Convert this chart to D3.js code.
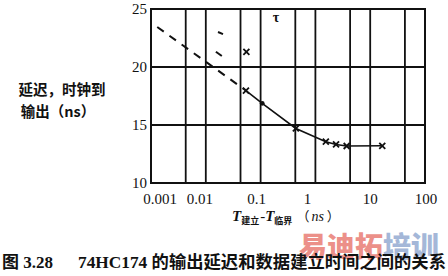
<!DOCTYPE html>
<html>
<head>
<meta charset="utf-8">
<script src="https://cdn.jsdelivr.net/npm/d3@7"></script>
<style>
  html, body { margin: 0; padding: 0; background: #fff; }
  svg { display: block; }
</style>
</head>
<body>
<svg id="chart" width="448" height="276"></svg>
<script>
// ---- data ----
const xTickValues = [0.001, 0.01, 0.1, 1, 10, 100];
const xTickLabels = ["0.001", "0.01", "0.1", "1", "10", "100"];
const xMinorGrid = [0.0043, 0.043, 0.43, 4.3, 43];
const yTickValues = [10, 15, 20, 25];
const yTickLabels = ["10", "15", "20", "25"];

// measured curve: setup-time margin (ns) vs clock-to-output delay (ns)
const setupMargin = [0.054, 0.107, 0.44, 1.55, 2.38, 3.72, 16.6];
const delayNs     = [17.97, 16.87, 14.70, 13.56, 13.32, 13.19, 13.21];
const markerKind  = ["x", "dot", "x", "x", "x", "x", "x"];

// dashed extrapolation
const dashedX = [0.0013, 0.054];
const dashedY = [23.45, 17.97];

// isolated measured point
const outlierX = [0.055];
const outlierY = [21.3];

// stray dashes in the original figure
const strayDashX = [[0.0167, 0.0206], [0.0153, 0.0196]];
const strayDashY = [[23.02, 22.84], [21.32, 20.95]];

const yTitleLines = ["延迟，时钟到", "输出（ns）"];
const captionNum = "图 3.28";
const captionText = "74HC174 的输出延迟和数据建立时间之间的关系";
const watermarkRed = "易迪拓";
const watermarkBlue = "培训";

// ---- drawing ----
const svg = d3.select("#chart");
const L = 151, R = 425, T = 9, B = 183;
const x = d3.scaleLog().domain([0.001, 100]).range([L, R]);
const y = d3.scaleLinear().domain([10, 25]).range([B, T]);

const serif = "'Liberation Serif', 'Times New Roman', serif";
const cjk = "'Noto Sans CJK SC', 'Noto Sans', sans-serif";
const ink = "#111";

// grid
const g = svg.append("g");
g.selectAll("line.vmajor").data(xTickValues).join("line")
  .attr("x1", d => x(d)).attr("x2", d => x(d))
  .attr("y1", T).attr("y2", B)
  .attr("stroke", ink).attr("stroke-width", 1.8);
g.selectAll("line.vminor").data(xMinorGrid).join("line")
  .attr("x1", d => x(d)).attr("x2", d => x(d))
  .attr("y1", T).attr("y2", B)
  .attr("stroke", ink).attr("stroke-width", 1.8);
g.selectAll("line.h").data(yTickValues).join("line")
  .attr("x1", L).attr("x2", R)
  .attr("y1", d => y(d)).attr("y2", d => y(d))
  .attr("stroke", ink).attr("stroke-width", 1.8);
// frame
g.append("rect").attr("x", L).attr("y", T).attr("width", R - L).attr("height", B - T)
  .attr("fill", "none").attr("stroke", ink).attr("stroke-width", 2);

// y tick labels
svg.append("g").selectAll("text").data(yTickValues).join("text")
  .attr("x", 147).attr("y", d => y(d))
  .attr("text-anchor", "end").attr("dominant-baseline", "central")
  .attr("font-family", serif).attr("font-size", 15).attr("fill", ink)
  .text((d, i) => yTickLabels[i]);

// x tick labels
const labelNudge = [9, -6, -4, -8, 0, 1];
svg.append("g").selectAll("text").data(xTickValues).join("text")
  .attr("x", (d, i) => x(d) + labelNudge[i]).attr("y", 199)
  .attr("text-anchor", "middle").attr("dominant-baseline", "central")
  .attr("font-family", serif).attr("font-size", 15).attr("fill", ink)
  .text((d, i) => xTickLabels[i]);

// dashed extrapolation
const line = d3.line().x(d => x(d[0])).y(d => y(d[1]));
svg.append("path")
  .attr("d", line(dashedX.map((v, i) => [v, dashedY[i]])))
  .attr("fill", "none").attr("stroke", ink).attr("stroke-width", 2)
  .attr("stroke-dasharray", "8,7");
strayDashX.forEach((xs, k) => {
  svg.append("path")
    .attr("d", line(xs.map((v, i) => [v, strayDashY[k][i]])))
    .attr("fill", "none").attr("stroke", ink).attr("stroke-width", 2);
});

// solid curve
svg.append("path")
  .attr("d", line(setupMargin.map((v, i) => [v, delayNs[i]])))
  .attr("fill", "none").attr("stroke", ink).attr("stroke-width", 1.6);

// markers
function cross(sel, cx, cy, s) {
  sel.append("path")
    .attr("d", `M${cx - s},${cy - s}L${cx + s},${cy + s}M${cx - s},${cy + s}L${cx + s},${cy - s}`)
    .attr("stroke", ink).attr("stroke-width", 1.8).attr("fill", "none");
}
const mk = svg.append("g");
setupMargin.forEach((v, i) => {
  const cx = x(v), cy = y(delayNs[i]);
  if (markerKind[i] === "dot") {
    mk.append("circle").attr("cx", cx).attr("cy", cy).attr("r", 2.4).attr("fill", ink);
  } else {
    cross(mk, cx, cy, 3);
  }
});
outlierX.forEach((v, i) => cross(mk, x(v), y(outlierY[i]), 3));

// small glyph near top
svg.append("text").attr("x", 276).attr("y", 22).attr("text-anchor", "middle")
  .attr("font-family", serif).attr("font-size", 14).attr("font-weight", "bold")
  .attr("fill", ink).text("τ");

// y title
svg.append("text").attr("x", 62).attr("y", 88).attr("text-anchor", "middle")
  .attr("dominant-baseline", "central")
  .attr("font-family", cjk).attr("font-size", 14.5).attr("font-weight", "bold")
  .attr("fill", ink).text(yTitleLines[0]);
svg.append("text").attr("x", 58).attr("y", 110).attr("text-anchor", "middle")
  .attr("dominant-baseline", "central")
  .attr("font-family", cjk).attr("font-size", 14.5).attr("font-weight", "bold")
  .attr("fill", ink).text(yTitleLines[1]);

// watermark
const wm = svg.append("text").attr("x", 299).attr("y", 257)
  .attr("font-family", cjk).attr("font-size", 28).attr("font-weight", "900")
  .attr("opacity", 0.8);
wm.append("tspan").attr("fill", "#e8756c").text(watermarkRed);
wm.append("tspan").attr("fill", "#8ea6cf").text(watermarkBlue);

// x title: T建立 - T临界 (ns)
const xt = svg.append("text").attr("x", 232).attr("y", 221)
  .attr("font-family", serif).attr("font-size", 15).attr("fill", ink);
xt.append("tspan").attr("font-style", "italic").attr("font-weight", "bold").text("T");
xt.append("tspan").attr("font-family", cjk).attr("font-size", 9).attr("font-weight", "bold")
  .attr("dy", 3).text("建立");
xt.append("tspan").attr("dy", -3).attr("dx", 1).text("-");
xt.append("tspan").attr("font-style", "italic").attr("font-weight", "bold").text("T");
xt.append("tspan").attr("font-family", cjk).attr("font-size", 9).attr("font-weight", "bold")
  .attr("dy", 3).text("临界");
xt.append("tspan").attr("dy", -3).attr("dx", 4).attr("font-family", cjk).attr("font-size", 13).text("（");
xt.append("tspan").attr("dx", 2).attr("font-style", "italic").attr("font-size", 14).text("ns");
xt.append("tspan").attr("dx", 3).attr("font-family", cjk).attr("font-size", 13).text("）");

// caption
svg.append("text").attr("x", 2).attr("y", 268)
  .attr("font-family", "'Liberation Serif', 'Noto Sans CJK SC', serif")
  .attr("font-size", 17).attr("font-weight", "bold").attr("fill", ink)
  .text(captionNum);
svg.append("text").attr("x", 78).attr("y", 268)
  .attr("font-family", "'Liberation Serif', 'Noto Sans CJK SC', serif")
  .attr("font-size", 17).attr("font-weight", "bold").attr("fill", ink)
  .attr("textLength", 368).attr("lengthAdjust", "spacingAndGlyphs")
  .text(captionText);
</script>
</body>
</html>
